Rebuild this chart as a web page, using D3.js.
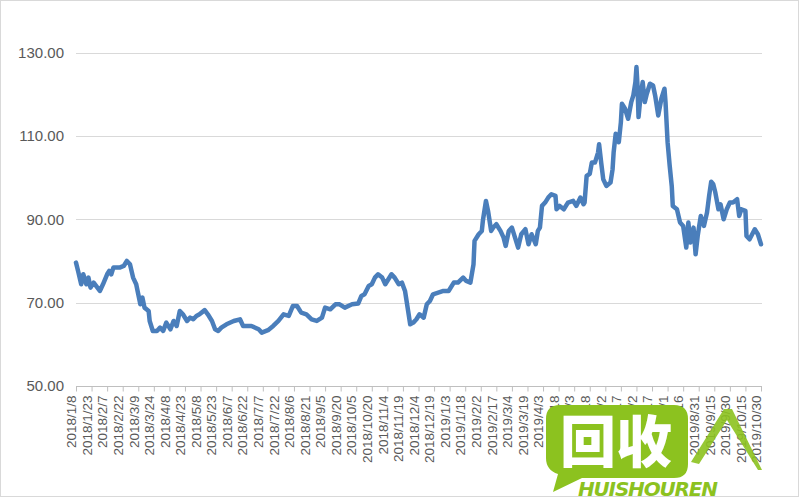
<!DOCTYPE html>
<html>
<head>
<meta charset="utf-8">
<script src="https://cdn.jsdelivr.net/npm/d3@7"></script>
<style>
  html, body { margin: 0; padding: 0; background: #ffffff; }
  svg { display: block; }
</style>
</head>
<body>
<svg id="chart" width="800" height="500"></svg>
<script>
// ---- data ----
const dates = [
  "2018-01-08","2018-01-10","2018-01-13","2018-01-15","2018-01-18","2018-01-20","2018-01-22","2018-01-25","2018-01-31",
  "2018-02-03","2018-02-07","2018-02-09","2018-02-11","2018-02-13","2018-02-19","2018-02-23","2018-02-26",
  "2018-03-01","2018-03-04","2018-03-07","2018-03-09","2018-03-11","2018-03-13","2018-03-15","2018-03-19","2018-03-20","2018-03-23","2018-03-27","2018-03-30",
  "2018-04-02","2018-04-05","2018-04-09","2018-04-12","2018-04-15","2018-04-18","2018-04-21","2018-04-25","2018-04-28",
  "2018-05-01","2018-05-04","2018-05-07","2018-05-12","2018-05-15","2018-05-19","2018-05-22","2018-05-25","2018-05-28",
  "2018-06-02","2018-06-09","2018-06-15","2018-06-18","2018-06-21","2018-06-26",
  "2018-07-03","2018-07-06","2018-07-12","2018-07-17","2018-07-22","2018-07-27",
  "2018-08-01","2018-08-05","2018-08-09","2018-08-13","2018-08-18","2018-08-23","2018-08-28",
  "2018-09-02","2018-09-05","2018-09-10","2018-09-15","2018-09-19","2018-09-24",
  "2018-10-01","2018-10-07","2018-10-10","2018-10-13","2018-10-17","2018-10-20","2018-10-23","2018-10-26","2018-10-30",
  "2018-11-02","2018-11-05","2018-11-08","2018-11-11","2018-11-15","2018-11-18","2018-11-21","2018-11-24","2018-11-26","2018-11-29",
  "2018-12-02","2018-12-05","2018-12-09","2018-12-12","2018-12-15","2018-12-18","2018-12-23","2018-12-28",
  "2019-01-02","2019-01-07","2019-01-11","2019-01-16","2019-01-19","2019-01-23","2019-01-26","2019-01-27","2019-01-31",
  "2019-02-03","2019-02-04","2019-02-07","2019-02-09","2019-02-12","2019-02-14","2019-02-17","2019-02-21","2019-02-24","2019-02-26",
  "2019-03-01","2019-03-04","2019-03-07","2019-03-10","2019-03-13","2019-03-17","2019-03-20","2019-03-23","2019-03-27","2019-03-29","2019-03-31",
  "2019-04-02","2019-04-05","2019-04-08","2019-04-11","2019-04-15","2019-04-16","2019-04-19","2019-04-23","2019-04-27",
  "2019-05-02","2019-05-05","2019-05-09","2019-05-12","2019-05-13","2019-05-15","2019-05-18","2019-05-20","2019-05-23","2019-05-26","2019-05-27","2019-05-29","2019-05-31",
  "2019-06-03","2019-06-07","2019-06-09","2019-06-10","2019-06-12","2019-06-15","2019-06-17","2019-06-18","2019-06-21","2019-06-24","2019-06-27","2019-06-29",
  "2019-07-01","2019-07-02","2019-07-03","2019-07-04","2019-07-06","2019-07-08","2019-07-10","2019-07-12","2019-07-15","2019-07-18","2019-07-20","2019-07-23","2019-07-26","2019-07-29","2019-07-30",
  "2019-08-01","2019-08-03","2019-08-05","2019-08-06","2019-08-10","2019-08-13","2019-08-16","2019-08-19","2019-08-21","2019-08-23","2019-08-26","2019-08-28","2019-08-30",
  "2019-09-02","2019-09-05","2019-09-08","2019-09-10","2019-09-12","2019-09-14","2019-09-16","2019-09-19","2019-09-21","2019-09-24","2019-09-27","2019-09-30",
  "2019-10-03","2019-10-07","2019-10-09","2019-10-11","2019-10-15","2019-10-16","2019-10-19","2019-10-24","2019-10-27","2019-10-30"
];
const values = [
  79.6,77.6,74.4,76.8,74.4,76.0,73.6,74.8,72.8,
  74.4,76.8,77.6,76.8,78.4,78.4,78.8,80.0,
  79.2,76.0,74.4,72.0,69.6,71.2,68.8,68.0,65.6,63.2,63.2,64.0,
  63.2,65.2,63.6,65.6,64.4,68.0,67.2,65.6,66.4,
  66.0,66.8,67.2,68.2,67.2,65.6,63.6,63.2,64.0,
  64.8,65.6,66.0,64.4,64.4,64.4,
  63.6,62.8,63.4,64.4,65.6,67.2,
  66.8,69.2,69.2,67.6,67.2,66.0,65.6,
  66.4,68.8,68.4,69.6,69.6,68.8,
  69.6,69.8,71.6,72.0,74.0,74.4,76.0,76.8,76.0,
  74.4,75.6,76.8,76.0,74.4,74.8,72.8,68.0,64.8,65.2,
  66.0,67.2,66.4,69.6,70.4,72.0,72.4,72.8,
  72.8,74.8,74.8,76.0,75.2,74.8,79.2,84.8,86.4,
  87.2,89.6,94.4,92.0,87.2,88.0,88.8,87.2,85.6,83.6,
  87.2,88.0,85.6,83.2,86.4,87.6,84.0,86.4,84.0,87.2,88.0,
  93.2,94.0,95.2,96.0,95.6,92.4,93.2,92.4,94.0,
  94.4,93.2,95.2,93.6,94.0,100.4,100.9,103.6,103.6,106.0,108.0,103.6,99.6,
  98.0,98.8,102.0,106.0,110.5,108.5,113.3,117.7,116.5,114.1,118.1,119.7,
  122.9,126.5,122.1,114.5,119.7,122.9,118.1,120.1,122.5,122.1,119.7,114.9,118.9,121.3,118.1,
  108.5,102.9,98.0,93.2,92.4,89.2,88.4,83.2,89.2,84.4,88.0,81.6,86.0,
  90.8,88.4,91.6,95.6,99.0,98.4,96.4,92.4,93.6,90.0,92.4,94.0,
  94.0,94.8,90.8,92.4,92.0,86.0,85.2,87.6,86.4,84.0
];
const xTickLabels = [
  "2018/1/8","2018/1/23","2018/2/7","2018/2/22","2018/3/9","2018/3/24","2018/4/8","2018/4/23",
  "2018/5/8","2018/5/23","2018/6/7","2018/6/22","2018/7/7","2018/7/22","2018/8/6","2018/8/21",
  "2018/9/5","2018/9/20","2018/10/5","2018/10/20","2018/11/4","2018/11/19","2018/12/4","2018/12/19",
  "2019/1/3","2019/1/18","2019/2/2","2019/2/17","2019/3/4","2019/3/19","2019/4/3","2019/4/18",
  "2019/5/3","2019/5/18","2019/6/2","2019/6/17","2019/7/2","2019/7/17","2019/8/1","2019/8/16",
  "2019/8/31","2019/9/15","2019/9/30","2019/10/15","2019/10/30"
];
const yTicks = [50, 70, 90, 110, 130];
const yDomain = [50, 130];

// ---- drawing ----
const svg = d3.select("#chart");
const parseDate = d3.timeParse("%Y-%m-%d");
const parseLabel = d3.timeParse("%Y/%m/%d");
const data = dates.map((d, i) => ({ date: parseDate(d), value: values[i] }));
const tickDates = xTickLabels.map(parseLabel);

const x = d3.scaleTime()
  .domain([tickDates[0], tickDates[tickDates.length - 1]])
  .range([76, 761]);
const y = d3.scaleLinear().domain(yDomain).range([386, 52.5]);

// chart area border
svg.append("rect")
  .attr("x", 0.5).attr("y", 0.5).attr("width", 798).attr("height", 496)
  .attr("fill", "#ffffff").attr("stroke", "#d9d9d9");

// gridlines
svg.append("g")
  .selectAll("line")
  .data(yTicks.filter(t => t !== yDomain[0]))
  .join("line")
  .attr("x1", 76).attr("x2", 762)
  .attr("y1", d => Math.round(y(d)) + 0.5).attr("y2", d => Math.round(y(d)) + 0.5)
  .attr("stroke", "#d9d9d9").attr("stroke-width", 1);

// y axis labels
const yAxis = d3.axisLeft(y).tickValues(yTicks).tickFormat(d3.format(".2f")).tickSize(0).tickPadding(0);
const gy = svg.append("g").attr("transform", "translate(64,0)").call(yAxis);
gy.select(".domain").remove();
gy.selectAll("text")
  .attr("fill", "#595959")
  .style("font-family", "'Liberation Sans', Arial, sans-serif")
  .style("font-size", "15px");

// x axis
const xAxis = d3.axisBottom(x).tickValues(tickDates).tickSize(5).tickFormat((d, i) => xTickLabels[i]);
const gx = svg.append("g").attr("transform", "translate(0," + (Math.round(y(yDomain[0])) + 0.5) + ")").call(xAxis);
gx.select(".domain").attr("stroke", "#bfbfbf").attr("d", "M76,0H762");
gx.selectAll(".tick line").attr("stroke", "#bfbfbf");
gx.selectAll(".tick text")
  .attr("fill", "#595959")
  .style("font-family", "'Liberation Sans', Arial, sans-serif")
  .style("font-size", "13.5px")
  .attr("text-anchor", "end")
  .attr("transform", "rotate(-90)")
  .attr("x", -9)
  .attr("y", 0)
  .attr("dy", "-0.02em");

// data line
const line = d3.line().x(d => x(d.date)).y(d => y(d.value));
svg.append("path")
  .datum(data)
  .attr("fill", "none")
  .attr("stroke", "#4a7ebb")
  .attr("stroke-width", 4.5)
  .attr("stroke-linejoin", "round")
  .attr("stroke-linecap", "round")
  .attr("d", line);

// watermark logo
const wm = svg.append("g");
wm.append("path")
  .attr("d", "M560,405 H674 Q688,405 688,419 V464 Q688,478 674,478 H582 L553,492 L558,474 Q546,470 546,458 V419 Q546,405 560,405 Z")
  .attr("fill", "#8cc21f");
wm.append("text")
  .attr("x", 616).attr("y", 462)
  .attr("text-anchor", "middle")
  .attr("fill", "#ffffff")
  .style("font-family", "'Noto Sans CJK SC', sans-serif")
  .style("font-weight", "900")
  .style("font-size", "56px")
  .text("回收");
wm.append("text")
  .attr("x", 578).attr("y", 496)
  .attr("fill", "#8cc21f")
  .attr("textLength", 140)
  .style("font-family", "'DejaVu Sans', sans-serif")
  .style("font-weight", "bold")
  .style("font-style", "italic")
  .style("font-size", "20px")
  .text("HUISHOUREN");
wm.append("path")
  .attr("d", "M691,462 L724,409 L732,409 L762,470 L758,470 L727,420 L699,464 Z")
  .attr("fill", "#8cc21f")
  .attr("opacity", 0.9);
</script>
</body>
</html>
